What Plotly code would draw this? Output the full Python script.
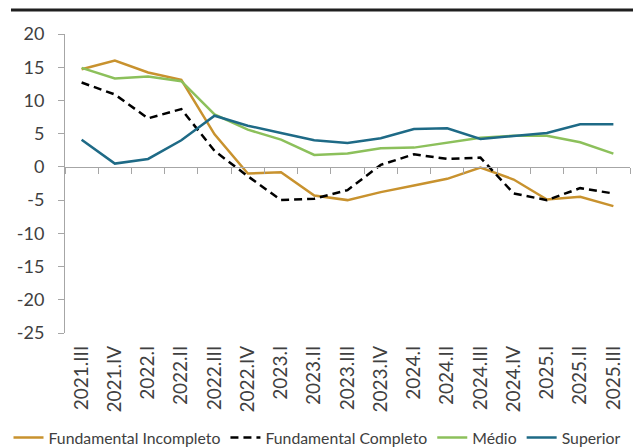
import plotly.graph_objects as go

categories = ["2021.III", "2021.IV", "2022.I", "2022.II", "2022.III", "2022.IV",
              "2023.I", "2023.II", "2023.III", "2023.IV", "2024.I", "2024.II",
              "2024.III", "2024.IV", "2025.I", "2025.II", "2025.III"]

fund_incompleto = [14.7, 16.0, 14.2, 13.1, 4.9, -1.0, -0.8, -4.3, -5.0, -3.8, -2.8,
                   -1.8, -0.1, -1.9, -4.9, -4.5, -5.9]
fund_completo = [12.7, 10.9, 7.3, 8.7, 2.4, -1.4, -5.0, -4.8, -3.5, 0.3, 1.9,
                 1.2, 1.4, -4.0, -5.0, -3.2, -4.0]
medio = [14.9, 13.3, 13.6, 12.9, 7.9, 5.6, 4.1, 1.8, 2.0, 2.8, 2.9,
         3.6, 4.4, 4.7, 4.7, 3.7, 2.0]
superior = [4.1, 0.5, 1.2, 4.0, 7.7, 6.2, 5.1, 4.0, 3.6, 4.3, 5.7,
            5.8, 4.2, 4.7, 5.1, 6.4, 6.4]

y_ticks = [-25, -20, -15, -10, -5, 0, 5, 10, 15, 20]
y_tick_labels = ["-25", "-20", "-15", "-10", "-5", "0", "5", "10", "15", "20"]

FONT = "Lato"
AXIS_GRAY = "#A6A6A6"
TEXT = "#404040"

fig = go.Figure()
fig.add_trace(go.Scatter(x=categories, y=fund_incompleto, mode="lines",
                         name="Fundamental Incompleto",
                         line=dict(color="#C8922E", width=2.5)))
fig.add_trace(go.Scatter(x=categories, y=fund_completo, mode="lines",
                         name="Fundamental Completo",
                         line=dict(color="#000000", width=2.5, dash="8px,5px")))
fig.add_trace(go.Scatter(x=categories, y=medio, mode="lines",
                         name="Médio",
                         line=dict(color="#8CC05B", width=2.5)))
fig.add_trace(go.Scatter(x=categories, y=superior, mode="lines",
                         name="Superior",
                         line=dict(color="#1E6A86", width=2.5)))
# invisible trace carrying the zero-line category axis
fig.add_trace(go.Scatter(x=categories, y=[None] * len(categories), xaxis="x2",
                         showlegend=False, hoverinfo="skip", mode="lines"))

fig.update_layout(
    width=633, height=448,
    margin=dict(l=65, r=3, t=34, b=115, autoexpand=False),
    paper_bgcolor="white", plot_bgcolor="white",
    font=dict(family=FONT, size=16, color=TEXT),
    showlegend=True,
    legend=dict(orientation="h", xref="paper", yref="paper",
                x=-0.1, xanchor="left", y=-0.35, yanchor="middle",
                font=dict(family=FONT, size=15.8, color=TEXT),
                itemwidth=30, tracegroupgap=0, bgcolor="rgba(0,0,0,0)"),
    xaxis=dict(type="category", categoryorder="array", categoryarray=categories,
               range=[-0.5, len(categories) - 0.5], automargin=False,
               showline=False, showgrid=False, zeroline=False, ticks="",
               tickangle=-90, ticklabelstandoff=8,
               tickfont=dict(family=FONT, size=19, color=TEXT)),
    xaxis2=dict(type="category", categoryorder="array", categoryarray=categories,
                overlaying="x", anchor="free", position=25 / 45, side="bottom",
                range=[-0.5, len(categories) - 0.5], automargin=False,
                showline=True, linecolor=AXIS_GRAY, linewidth=1,
                showgrid=False, zeroline=False, showticklabels=False,
                ticks="outside", tickson="boundaries", ticklen=6,
                tickcolor=AXIS_GRAY, tickwidth=1),
    yaxis=dict(range=[-25, 20], tickvals=y_ticks, ticktext=y_tick_labels,
               automargin=False,
               showline=True, linecolor=AXIS_GRAY, linewidth=1,
               showgrid=False, zeroline=False,
               ticks="outside", ticklen=6, tickcolor=AXIS_GRAY, tickwidth=1,
               ticklabelstandoff=10,
               tickfont=dict(family=FONT, size=18, color=TEXT)),
    shapes=[dict(type="line", xref="paper", yref="paper",
                 x0=-0.0956, x1=1.006, y0=1.08, y1=1.08,
                 line=dict(color="#1F1F1F", width=3))],
)

fig.write_html("out.html", config={"displayModeBar": False},
               post_script="document.body.style.margin='0';document.body.style.padding='0';")
